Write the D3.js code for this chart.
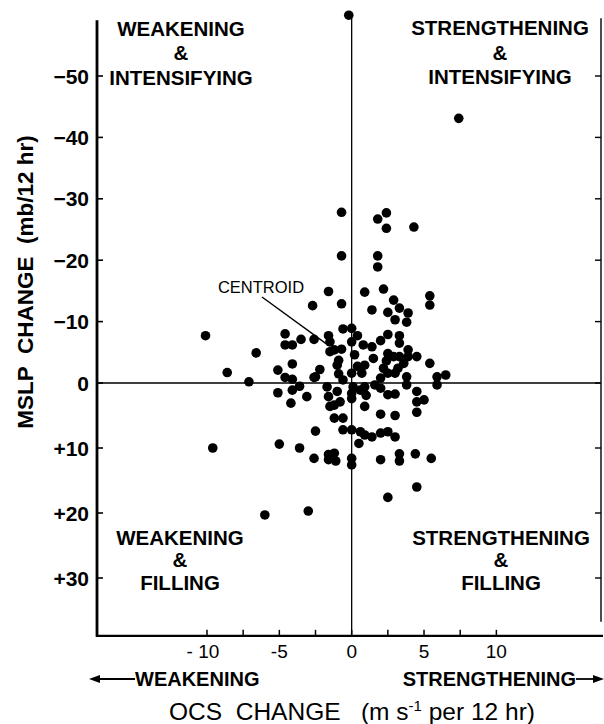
<!DOCTYPE html>
<html><head><meta charset="utf-8">
<script src="https://cdn.jsdelivr.net/npm/d3@7"></script>
<style>body{margin:0;background:#fff}svg{display:block}text{white-space:pre}</style>
</head><body><svg id="c" width="604" height="724"></svg>
<script>
// OCS change (m s^-1 per 12 hr)
const ocs = [-0.2,7.4,-0.7,2.4,1.8,2.4,4.3,-0.7,1.8,1.8,-1.6,0.9,2.2,5.4,5.4,-2.7,-0.7,1.4,2.9,2.5,3.3,3.9,3.0,3.8,-0.6,0,0.4,0,-1.6,-1.5,-2.6,-3.5,2.5,3.3,2.0,0.8,1.4,-1.5,-1.2,-0.7,3.3,3.9,2.5,2.9,3.3,4.5,3.9,-0.9,1.5,3.6,-2.2,-1.0,0.4,0.9,2.2,3.2,5.4,-2.5,-0.9,0,0.7,2.5,3.0,5.9,6.5,5.9,3.8,3.8,-0.6,2.0,-1.7,0.1,0.9,1.6,-3.1,-1.6,-1.0,0,0.6,2.0,2.5,3.0,4.5,5.0,4.5,-0.8,0,-1.5,-1.2,0.9,2.0,3.0,4.5,-1.2,-0.6,-2.5,-0.6,0,0.6,0.9,1.4,2.0,2.5,3.0,0.5,-3.6,-10.1,-6.6,-8.6,-7.1,-4.6,-4.6,-4.1,-4.1,-5.1,-4.6,-4.1,-2.6,-5.1,-4.1,-3.6,-4.2,-5.0,-9.6,-6.0,-2.6,-1.6,-1.6,-1.2,-1.1,0,0,2.0,3.3,3.3,4.4,5.5,4.5,2.5,-3.0,1.0,2.4,0.2];
// MSLP change (mb/12 hr)
const mslp = [-59.9,-43.1,-27.8,-27.7,-26.7,-25.2,-25.4,-20.7,-20.7,-18.9,-14.9,-14.8,-15.3,-14.2,-12.7,-12.6,-12.9,-11.9,-13.5,-11.5,-12.2,-11.4,-10.3,-9.9,-8.8,-8.9,-7.7,-6.7,-7.7,-6.7,-7.1,-7.1,-7.9,-7.7,-6.9,-6.2,-5.9,-5.1,-5.4,-5.5,-6.5,-5.4,-4.8,-4.3,-4.3,-4.3,-4.3,-3.7,-4.0,-3.2,-2.2,-2.9,-2.7,-2.9,-2.4,-2.4,-3.2,-1.0,-1.5,-1.6,-1.6,-1.6,-1.6,-1.0,-1.3,0.3,-1.0,0.3,-0.5,-0.8,0.6,0.6,0.6,0.3,2.1,2.1,1.3,1.6,1.1,0.8,1.8,1.7,1.3,2.6,2.9,2.9,2.4,3.6,3.4,3.6,4.8,5.0,4.5,5.4,5.4,7.4,7.2,7.2,7.5,8.0,8.3,7.7,7.5,8.3,9.3,10.0,-7.7,-4.9,-1.7,-0.2,-8.0,-6.2,-6.2,-3.1,-2.1,-0.9,-0.6,-0.9,1.5,1.1,0.5,3.1,9.4,10.0,20.3,11.6,11.0,11.8,10.8,12.0,11.6,12.6,11.8,10.9,12.0,10.9,11.6,16.0,17.6,19.7,1.9,-3.6,-4.6];
const yTicks = [-50,-40,-30,-20,-10,0,10,20,30];
const yTickLabels = ["\u221250","\u221240","\u221230","\u221220","\u221210","0","+10","+20","+30"];
const xTicks = [-10,-7.5,-5,-2.5,0,2.5,5,7.5,10];
const xTickLabels = ["- 10","-5","0","5","10"];
const xLabelVals = [-10,-5,0,5,10];
const centroid = [-1.7,-6.3];

const svg = d3.select("#c");
const x = d3.scaleLinear().domain([-17.6,17.3]).range([97,602]);
const y = d3.scaleLinear().domain([-50,0,30]).range([76,383,578]);
const yTop = -59.1, yBot = 38.9;
const F = "'Liberation Sans', Arial, sans-serif";

// zero lines
svg.append("line").attr("x1",x(0)).attr("x2",x(0)).attr("y1",y(-59.9)).attr("y2",y(yBot))
  .attr("stroke","#000").attr("stroke-width",1.3);
svg.append("line").attr("x1",x(-17.6)).attr("x2",x(17.2)).attr("y1",y(0)).attr("y2",y(0))
  .attr("stroke","#000").attr("stroke-width",1.3);

// axes frame
svg.append("line").attr("x1",97).attr("x2",97).attr("y1",y(yTop)).attr("y2",y(yBot)+1)
  .attr("stroke","#000").attr("stroke-width",2.8);
svg.append("line").attr("x1",96).attr("x2",603).attr("y1",y(yBot)).attr("y2",y(yBot))
  .attr("stroke","#000").attr("stroke-width",2.2);
svg.append("line").attr("x1",601).attr("x2",601).attr("y1",y(-59.4)).attr("y2",y(yBot)-14)
  .attr("stroke","#000").attr("stroke-width",1.4);

// left ticks + labels
const gl = svg.append("g");
yTicks.forEach((t,i)=>{
  gl.append("line").attr("x1",97).attr("x2",103).attr("y1",y(t)).attr("y2",y(t)).attr("stroke","#000").attr("stroke-width",1.6);
  svg.append("line").attr("x1",601).attr("x2",595).attr("y1",y(t)).attr("y2",y(t)).attr("stroke","#000").attr("stroke-width",1.4);
  gl.append("text").attr("x",89).attr("y",y(t)).attr("dy","0.36em").attr("text-anchor","end")
    .attr("font-family",F).attr("font-weight","bold").attr("font-size",21).text(yTickLabels[i]);
});
// bottom ticks
xTicks.forEach(t=>{
  svg.append("line").attr("x1",x(t)).attr("x2",x(t)).attr("y1",y(yBot)).attr("y2",y(yBot)-6).attr("stroke","#000").attr("stroke-width",1.5);
});
xLabelVals.forEach((t,i)=>{
  svg.append("text").attr("x",x(t)+(t===-10?-4:0)).attr("y",658).attr("text-anchor","middle")
    .attr("font-family",F).attr("font-size",19).text(xTickLabels[i]);
});

// dots
svg.append("g").selectAll("circle").data(ocs.map((v,i)=>[v,mslp[i]])).join("circle")
  .attr("cx",d=>x(d[0])).attr("cy",d=>y(d[1])).attr("r",4.8).attr("fill","#000");

// quadrant labels
function block(cx, lines, base){
  lines.forEach((s,i)=>{
    svg.append("text").attr("x",cx).attr("y",base[i]).attr("text-anchor","middle")
      .attr("font-family",F).attr("font-weight","bold").attr("font-size",20.5).text(s);
  });
}
block(181,["WEAKENING","&","INTENSIFYING"],[36,60,85]);
block(500,["STRENGTHENING","&","INTENSIFYING"],[35,60,84]);
block(180,["WEAKENING","&","FILLING"],[545,567,590]);
block(501,["STRENGTHENING","&","FILLING"],[545,567,590]);

// centroid
svg.append("text").attr("x",261).attr("y",293).attr("text-anchor","middle")
  .attr("font-family",F).attr("font-size",16.5).text("CENTROID");
svg.append("line").attr("x1",262).attr("y1",297).attr("x2",x(centroid[0])).attr("y2",y(centroid[1]))
  .attr("stroke","#000").attr("stroke-width",1.4);

// y title
svg.append("text").attr("transform","translate(33,282) rotate(-90)").attr("text-anchor","middle")
  .attr("font-family",F).attr("font-weight","bold").attr("font-size",22.5).text("MSLP  CHANGE  (mb/12 hr)");

// direction labels
const ay = 679;
svg.append("line").attr("x1",96).attr("x2",135).attr("y1",ay).attr("y2",ay).attr("stroke","#000").attr("stroke-width",1.8);
svg.append("path").attr("d",`M89,${ay} L100,${ay-4} L100,${ay+4} Z`).attr("fill","#000");
svg.append("text").attr("x",135).attr("y",686).attr("font-family",F).attr("font-weight","bold").attr("font-size",20).text("WEAKENING");
svg.append("text").attr("x",576).attr("y",686).attr("text-anchor","end").attr("font-family",F).attr("font-weight","bold").attr("font-size",20).text("STRENGTHENING");
svg.append("line").attr("x1",576).attr("x2",597).attr("y1",ay).attr("y2",ay).attr("stroke","#000").attr("stroke-width",1.8);
svg.append("path").attr("d",`M604,${ay} L593,${ay-4} L593,${ay+4} Z`).attr("fill","#000");

// x title
const xt = svg.append("text").attr("x",352).attr("y",720).attr("text-anchor","middle")
  .attr("font-family",F).attr("font-size",24.5);
xt.append("tspan").text("OCS  CHANGE   (m s");
xt.append("tspan").attr("dy",-9).attr("font-size",15).text("-1");
xt.append("tspan").attr("dy",9).text(" per 12 hr)");
</script></body></html>
